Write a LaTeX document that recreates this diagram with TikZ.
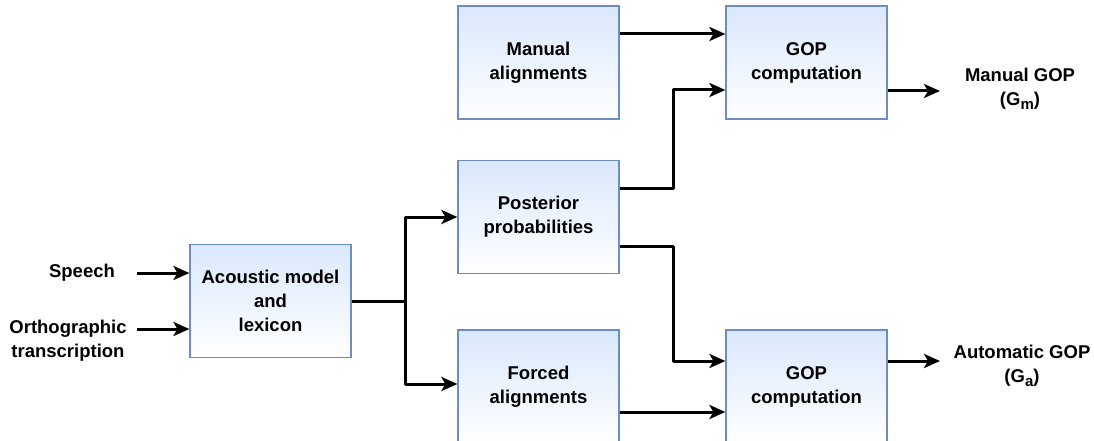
\documentclass[tikz,border=0pt]{standalone}
\usepackage{fontspec}
\setmainfont{Liberation Sans}
\usepackage{tikz}
\usetikzlibrary{arrows.meta}
\definecolor{boxblue}{HTML}{DAE8FC}
\definecolor{boxedge}{HTML}{6C8EBF}

\begin{document}
\begin{tikzpicture}[x=1pt, y=-1pt, every node/.style = {font=\fontsize{18.5}{24}\selectfont\bfseries, align=center}, box/.style = {shape=rectangle, draw=boxedge, line width=1.2pt, top color=boxblue, bottom color=white, minimum width=161pt, minimum height=113pt, inner sep=0pt}, arr/.style = {-{Stealth[length=16pt, width=14pt, inset=4pt]}, line width=3pt, line join=round}]
                \useasboundingbox (0,0) rectangle (1094,441);
                % blocks
                \node[box] (acoustic) at (270.5,301) {Acoustic model\\and\\lexicon};
                \node[box] (manual) at (538.5,62.5) {Manual\\alignments};
                \node[box] (posterior) at (538.5,217) {Posterior\\probabilities};
                \node[box] (forced) at (538.5,386.5) {Forced\\alignments};
                \node[box] (gopm) at (806.5,62.5) {GOP\\computation};
                \node[box] (gopa) at (806.5,386.5) {GOP\\computation};
                % inputs and outputs
                \node (speech) at (82,273) {Speech};
                \node (ortho) at (68,341) {Orthographic\\transcription};
                \node (outm) at (1020,89) {Manual GOP\\(G\raisebox{-0.35ex}{\fontsize{15}{15}\selectfont m})};
                \node (outa) at (1022,366) {Automatic GOP\\(G\raisebox{-0.35ex}{\fontsize{15}{15}\selectfont a})};
                \coordinate (sin) at (137,273);
                \coordinate (oin) at (137,329);
                \coordinate (fork) at (405,301);
                \coordinate (mend) at (940,91);
                \coordinate (aend) at (940,361);
                % connectors
                \draw[arr] (sin) -- (acoustic.west |- sin);
                \draw[arr] (oin) -- (acoustic.west |- oin);
                \draw[line width=3pt] (acoustic.east) -- (fork);
                \draw[arr] (fork) |- (posterior.west);
                \draw[arr] (fork) |- ([yshift=2.5pt]forced.west);
                \draw[arr] ([yshift=28.5pt]manual.east) -- ([yshift=28.5pt]gopm.west);
                \draw[arr] ([yshift=29pt]posterior.east) -| (673,90) -- ([yshift=-27.5pt]gopm.west);
                \draw[arr] ([yshift=-29pt]posterior.east) -| (673,361) -- ([yshift=25.5pt]gopa.west);
                \draw[arr] ([yshift=-25.5pt]forced.east) -- ([yshift=-25.5pt]gopa.west);
                \draw[arr] (gopm.east |- mend) -- (mend);
                \draw[arr] (gopa.east |- aend) -- (aend);
            \end{tikzpicture}
\end{document}
